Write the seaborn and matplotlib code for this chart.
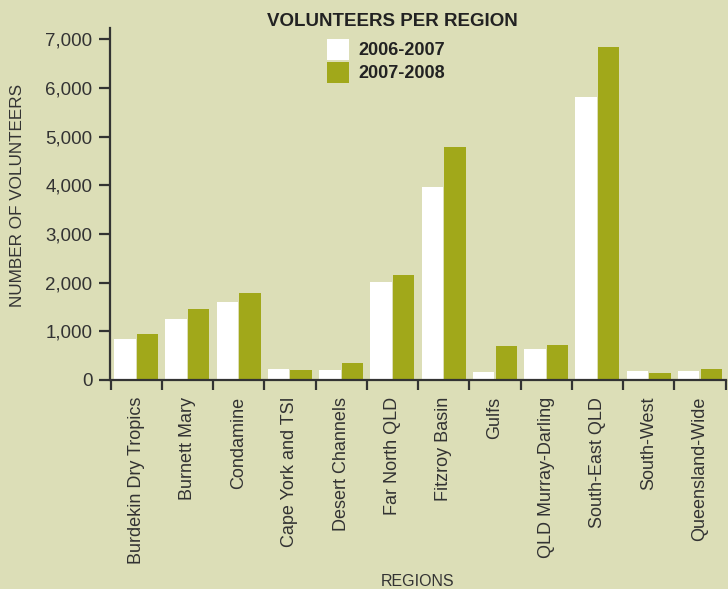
import matplotlib
matplotlib.use("Agg")
import matplotlib.pyplot as plt
import seaborn as sns
import pandas as pd
import numpy as np

regions = ["Burdekin Dry Tropics", "Burnett Mary", "Condamine", "Cape York and TSI",
           "Desert Channels", "Far North QLD", "Fitzroy Basin", "Gulfs",
           "QLD Murray-Darling", "South-East QLD", "South-West", "Queensland-Wide"]
v2006 = [840, 1250, 1600, 225, 205, 2010, 3960, 165, 640, 5810, 185, 185]
v2007 = [945, 1460, 1785, 205, 350, 2155, 4785, 700, 720, 6840, 145, 225]
series = ["2006-2007", "2007-2008"]
yticks = [0, 1000, 2000, 3000, 4000, 5000, 6000, 7000]

BG = "#DCDEB7"
GREEN = "#A1A81A"
DARK = "#333333"

df = pd.DataFrame({
    "region": regions * 2,
    "value": v2006 + v2007,
    "season": [series[0]] * len(regions) + [series[1]] * len(regions),
})

sns.set_theme(style="white")
plt.rcParams["font.family"] = ["Liberation Sans", "DejaVu Sans"]

fig = plt.figure(figsize=(7.28, 5.89), dpi=100)
fig.patch.set_facecolor(BG)
ax = fig.add_axes([110.5 / 728, 1 - 380 / 589, (725.6 - 110.5) / 728, (380 - 28) / 589])
ax.set_facecolor(BG)

sns.barplot(data=df, x="region", y="value", hue="season", order=regions,
            hue_order=series, palette=["white", GREEN], width=0.88, gap=0.05,
            saturation=1, edgecolor="none", linewidth=0, ax=ax, legend=True)

ax.set_xlim(-0.5, len(regions) - 0.5)
ax.set_ylim(0, 7230)
ax.set_yticks(yticks)
ax.set_yticklabels([f"{t:,}" for t in yticks])
ax.set_xticks(range(len(regions)))
ax.set_xticklabels(regions, rotation=90, va="top", ha="center")
ax.set_xticks(np.arange(-0.5, len(regions)), minor=True)

for s in ["top", "right"]:
    ax.spines[s].set_visible(False)
for s in ["left", "bottom"]:
    ax.spines[s].set_color(DARK)
    ax.spines[s].set_linewidth(1.6)

ax.tick_params(axis="x", which="major", length=0, pad=12, labelsize=13, labelcolor=DARK)
ax.tick_params(axis="x", which="minor", bottom=True, length=7, width=1.6, color=DARK, direction="out")
ax.tick_params(axis="y", which="major", left=True, length=8, width=1.6, color=DARK,
               direction="out", pad=5, labelsize=13.5, labelcolor=DARK)

ax.set_xlabel("REGIONS", fontsize=11.5, color=DARK)
ax.xaxis.set_label_coords(0.5, (380 - 581) / 352, transform=ax.transAxes)
ax.xaxis.label.set_va("center")
ax.set_ylabel("NUMBER OF VOLUNTEERS", fontsize=12.3, color=DARK)
ax.yaxis.set_label_coords((18 - 110.5) / 615.1, (380 - 195) / 352)
ax.yaxis.label.set_va("center")

fig.text(392 / 728, 1 - 21 / 589, "VOLUNTEERS PER REGION", ha="center", va="center",
         fontsize=13.5, fontweight="bold",
         family=["Liberation Sans", "DejaVu Sans"], color="#222222")

handles, labels = ax.get_legend_handles_labels()
leg = ax.legend(handles, labels, loc="upper left",
                bbox_to_anchor=(318 / 728, 1 - 30 / 589), bbox_transform=fig.transFigure,
                frameon=False, borderpad=0, handlelength=1.2, handleheight=1.4,
                handletextpad=0.55, labelspacing=0.12,
                prop={"size": 13, "weight": "bold"})
for t in leg.get_texts():
    t.set_color("#222222")

fig.savefig("out.png", dpi=100, facecolor=BG)
